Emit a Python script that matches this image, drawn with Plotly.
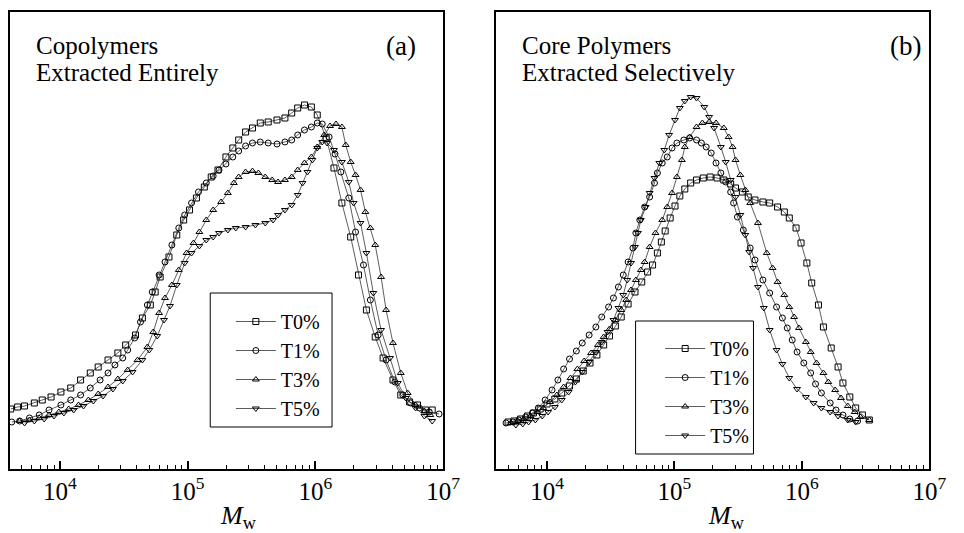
import plotly.graph_objects as go

# ---------------- Panel (a): copolymers extracted entirely ----------------
# log10(Mw) values and relative intensity (arbitrary units)
a_T0_logM = [3.615,3.669,3.723,3.800,3.862,3.931,4.008,4.085,4.162,4.238,4.300,4.377,4.454,4.515,4.592,4.646,4.708,4.746,4.785,4.854,
             4.915,4.969,5.015,5.069,5.131,5.185,5.238,5.300,5.354,5.400,5.454,5.508,5.569,5.631,5.700,5.762,5.815,5.862,5.915,5.969,
             6.015,6.085,6.146,6.208,6.277,6.338,6.400,6.469,6.531,6.608,6.669,6.738,6.800,6.862,6.915]
a_T0_y = [60,62,63,66,69,72,77,81,89,96,102,109,116,124,134,151,164,177,192,212,
          234,249,259,271,282,292,299,312,321,329,337,341,346,347,349,351,356,361,364,362,
          354,331,301,266,232,194,159,132,111,89,74,67,64,59,59]

a_T1_logM = [3.623,3.685,3.762,3.838,3.915,4.008,4.085,4.162,4.238,4.315,4.377,4.431,4.492,4.531,4.585,4.631,4.685,4.723,4.777,4.823,
             4.877,4.931,4.977,5.031,5.085,5.146,5.200,5.246,5.300,5.354,5.400,5.454,5.508,5.569,5.631,5.700,5.762,5.815,5.862,5.915,
             5.969,6.015,6.054,6.108,6.154,6.200,6.262,6.315,6.377,6.431,6.492,6.554,6.623,6.685,6.746,6.815,6.892,6.969]
a_T1_y = [47,48,51,54,59,64,69,74,81,89,96,104,111,119,131,147,164,177,194,207,
          224,241,254,266,277,286,293,299,305,312,318,323,326,327,326,325,327,329,334,339,
          342,346,345,332,315,297,271,237,204,169,134,109,87,74,66,61,57,55]

a_T3_logM = [3.685,3.762,3.838,3.915,3.992,4.069,4.146,4.223,4.300,4.377,4.454,4.531,4.608,4.685,4.731,4.777,4.823,4.877,4.931,4.992,
             5.046,5.092,5.146,5.200,5.262,5.315,5.362,5.400,5.454,5.508,5.554,5.608,5.662,5.708,5.762,5.815,5.862,5.915,5.969,6.015,
             6.069,6.115,6.162,6.208,6.238,6.277,6.315,6.354,6.392,6.431,6.469,6.515,6.554,6.608,6.669,6.723,6.785,6.854,6.900]
a_T3_y = [48,49,51,54,57,60,64,69,75,82,90,99,109,122,137,156,171,184,199,216,
          226,237,249,259,267,276,286,292,297,298,296,292,289,287,289,292,299,306,312,322,
          334,343,345,342,324,307,294,279,257,241,224,192,159,126,96,76,64,58,54]

a_T5_logM = [3.723,3.800,3.877,3.954,4.031,4.108,4.185,4.262,4.338,4.415,4.492,4.569,4.646,4.700,4.762,4.815,4.862,4.915,4.977,5.031,
             5.092,5.146,5.200,5.246,5.315,5.377,5.454,5.531,5.608,5.669,5.708,5.762,5.815,5.862,5.900,5.938,5.977,6.015,6.054,6.092,
             6.146,6.208,6.262,6.300,6.354,6.400,6.454,6.515,6.585,6.646,6.708,6.785,6.854,6.915]
a_T5_y = [46,48,50,53,56,59,63,68,73,80,88,97,109,119,133,149,163,184,206,216,
          223,229,232,236,239,241,242,244,246,249,254,259,264,274,286,297,309,321,327,326,
          319,307,287,266,246,216,176,139,111,86,71,61,53,48]

# ---------------- Panel (b): core polymers extracted selectively ----------------
b_T0_logM = [3.694,3.740,3.793,3.847,3.893,3.946,4.000,4.061,4.115,4.176,4.230,4.284,4.337,4.391,4.444,4.490,4.536,4.582,4.636,4.690,
             4.743,4.789,4.828,4.866,4.897,4.927,4.966,5.004,5.042,5.081,5.127,5.173,5.226,5.280,5.334,5.387,5.441,5.479,5.533,5.579,
             5.632,5.694,5.747,5.809,5.862,5.901,5.954,5.993,6.039,6.077,6.130,6.169,6.230,6.284,6.322,6.376,6.422,6.475,6.529]
b_T0_y = [47,48,50,53,56,60,65,70,76,83,90,98,106,114,124,133,143,152,165,177,
          187,197,204,216,227,238,251,263,273,280,286,289,291,292,291,289,285,281,277,272,
          269,267,266,262,257,251,241,226,206,186,164,142,121,102,86,72,61,54,49]

b_T1_logM = [3.678,3.732,3.778,3.832,3.885,3.931,3.985,4.039,4.085,4.130,4.176,4.230,4.276,4.330,4.383,4.429,4.483,4.521,4.560,4.598,
             4.636,4.674,4.697,4.728,4.766,4.805,4.843,4.866,4.904,4.943,4.981,5.019,5.073,5.119,5.173,5.211,5.249,5.288,5.326,5.364,
             5.402,5.441,5.464,5.494,5.540,5.594,5.632,5.694,5.747,5.801,5.847,5.885,5.924,5.962,6.015,6.069,6.107,6.153,6.222,6.268,
             6.322,6.376,6.437]
b_T1_y = [46,47,49,52,56,61,69,79,89,100,110,118,126,134,142,152,162,171,182,194,
          207,221,236,249,262,272,286,296,306,312,321,326,329,331,329,326,322,316,306,296,
          287,277,266,252,239,221,209,189,176,162,151,141,129,117,106,96,85,76,66,59,
          54,50,48]

b_T3_logM = [3.717,3.770,3.816,3.870,3.924,3.970,4.023,4.077,4.130,4.184,4.238,4.291,4.345,4.399,4.444,4.490,4.536,4.582,4.621,4.659,
             4.697,4.736,4.766,4.805,4.851,4.904,4.943,4.981,5.019,5.058,5.081,5.119,5.173,5.219,5.272,5.326,5.387,5.425,5.456,5.479,
             5.517,5.556,5.594,5.655,5.724,5.770,5.809,5.862,5.901,5.939,5.977,6.031,6.069,6.115,6.169,6.207,6.261,6.307,6.360,6.414,
             6.460,6.529]
b_T3_y = [46,48,50,53,57,61,67,74,82,91,100,108,116,124,132,140,149,159,169,179,
          189,199,207,222,236,249,262,276,292,309,322,332,342,346,347,346,341,332,322,309,
          294,279,266,246,216,201,187,174,162,152,141,127,117,106,96,87,79,71,63,57,
          52,49]

b_T5_logM = [3.755,3.809,3.855,3.908,3.962,4.008,4.061,4.115,4.169,4.222,4.276,4.330,4.383,4.429,4.475,4.521,4.560,4.598,4.629,4.659,
             4.690,4.713,4.736,4.774,4.805,4.843,4.881,4.920,4.958,5.004,5.042,5.081,5.127,5.173,5.234,5.272,5.311,5.364,5.402,5.441,
             5.479,5.517,5.556,5.586,5.617,5.655,5.701,5.747,5.801,5.847,5.901,5.962,6.031,6.092,6.153,6.222,6.284,6.360,6.422]
b_T5_y = [44,45,47,49,53,57,62,69,77,87,97,107,117,127,137,149,161,174,189,206,
          222,236,249,262,276,291,306,319,334,349,361,368,372,371,362,352,341,322,307,289,
          272,254,234,217,201,182,161,139,119,105,91,80,72,66,61,57,53,49,47]

series_names = ["T0%", "T1%", "T3%", "T5%"]
symbols = ["square-open", "circle-open", "triangle-up-open", "triangle-down-open"]

panel_a = [(a_T0_logM, a_T0_y), (a_T1_logM, a_T1_y), (a_T3_logM, a_T3_y), (a_T5_logM, a_T5_y)]
panel_b = [(b_T0_logM, b_T0_y), (b_T1_logM, b_T1_y), (b_T3_logM, b_T3_y), (b_T5_logM, b_T5_y)]

FONT = "Liberation Serif"
fig = go.Figure()

for panel, xa, ya, leg in [(panel_a, "x", "y", "legend"), (panel_b, "x2", "y2", "legend2")]:
    for i, (lm, yv) in enumerate(panel):
        fig.add_trace(go.Scatter(
            x=[10 ** v for v in lm], y=yv, xaxis=xa, yaxis=ya,
            mode="lines+markers", name=series_names[i], legend=leg,
            line=dict(color="#333333", width=0.8),
            marker=dict(symbol=symbols[i], size=6, color="black",
                        line=dict(color="black", width=1)),
        ))

xcommon = dict(type="log", range=[3.608, 7.0], dtick=1, exponentformat="power",
               showline=True, linecolor="black", linewidth=2, mirror=True,
               ticks="inside", ticklen=8, tickwidth=1.5, tickcolor="black",
               minor=dict(ticks="inside", ticklen=4, tickwidth=1.2, tickcolor="black", dtick="D1", showgrid=False),
               showgrid=False, zeroline=False,
               tickfont=dict(family=FONT, size=20, color="black"))
ycommon = dict(range=[0, 457], showticklabels=False, ticks="",
               showline=True, linecolor="black", linewidth=2, mirror=True,
               showgrid=False, zeroline=False)

legcommon = dict(borderwidth=0, bgcolor="rgba(0,0,0,0)",
                 font=dict(family=FONT, size=20, color="black"),
                 xanchor="left", yanchor="top", itemwidth=40)

fig.update_layout(
    width=964, height=533,
    margin=dict(l=0, r=0, t=0, b=0),
    paper_bgcolor="white", plot_bgcolor="white",
    showlegend=True,
    xaxis=dict(domain=[0.01037, 0.46784], anchor="y", **xcommon),
    yaxis=dict(domain=[0.12008, 0.97749], anchor="x", **ycommon),
    xaxis2=dict(domain=[0.52386, 0.98133], anchor="y2", **dict(xcommon, range=[3.60, 7.0])),
    yaxis2=dict(domain=[0.12008, 0.97749], anchor="x2", **ycommon),
    legend=dict(x=235 / 964, y=1 - 302 / 533, **legcommon),
    legend2=dict(x=672 / 964, y=1 - 329 / 533, **legcommon),
)

# legend frames (white boxes with thin black border)
for (x0, y0, x1, y1) in [(214, 293, 338, 427), (647, 321, 767, 454)]:
    fig.add_shape(type="rect", xref="paper", yref="paper",
                  x0=x0 / 964, x1=x1 / 964, y0=1 - y1 / 533, y1=1 - y0 / 533,
                  line=dict(color="black", width=1), fillcolor="white", layer="above")

def label(text, x, y, size=25, anchor="left"):
    fig.add_annotation(text=text, xref="paper", yref="paper", x=x, y=y,
                       xanchor=anchor, yanchor="middle", showarrow=False,
                       font=dict(family=FONT, size=size, color="black"))

label("Copolymers", 35 / 964, 1 - 46 / 533)
label("Extracted Entirely", 35 / 964, 1 - 73 / 533)
label("(a)", 391 / 964, 1 - 46 / 533, size=27)
label("Core Polymers", 529 / 964, 1 - 46 / 533)
label("Extracted Selectively", 529 / 964, 1 - 73 / 533)
label("(b)", 904 / 964, 1 - 46 / 533, size=27)
label("<i>M</i><sub>w</sub>", 243 / 964, 1 - 517 / 533, size=26, anchor="center")
label("<i>M</i><sub>w</sub>", 740 / 964, 1 - 517 / 533, size=26, anchor="center")

fig.write_html("out.html")
